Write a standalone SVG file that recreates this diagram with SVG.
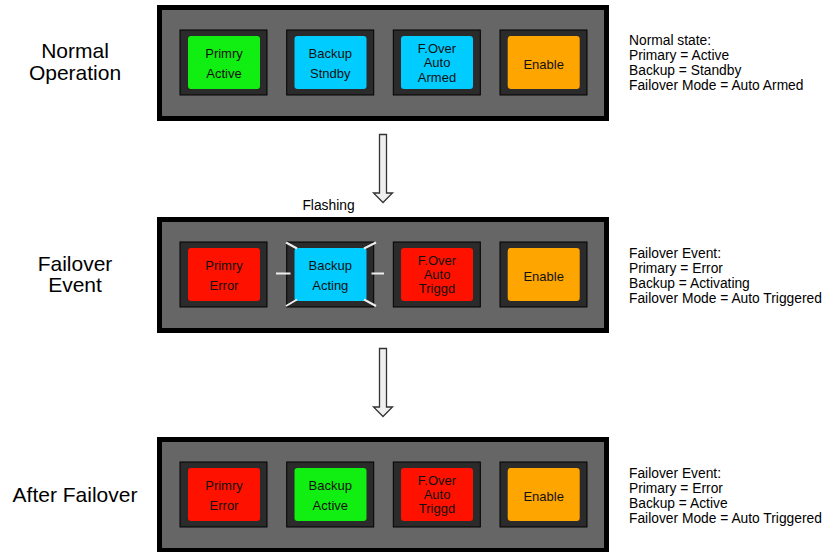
<svg xmlns="http://www.w3.org/2000/svg" width="830" height="552" viewBox="0 0 830 552">
<style>
.panel{fill:#666666;stroke:#000;stroke-width:5}
.bezel{fill:#2b2b2b;stroke:#000;stroke-width:1}
.green{fill:#11ee11}
.cyan{fill:#00ccff}
.red{fill:#ff1100}
.orange{fill:#ffa500}
.bt{font-family:"Liberation Sans",Arial,sans-serif;font-size:13px;fill:#111;text-anchor:middle}
.lbl{font-family:"Liberation Sans",Arial,sans-serif;font-size:21px;fill:#000;text-anchor:middle}
.note{font-family:"Liberation Sans",Arial,sans-serif;font-size:13.8px;fill:#000}
.flash{stroke:#eeeeee;stroke-width:2;fill:none}
.arrow{fill:#efefef;stroke:#333;stroke-width:1.3}
</style>
<defs>
<rect id="bz" class="bezel" x="0" y="0" width="87" height="65"/>
</defs>

<!-- Panel 1 -->
<g id="panel1">
<rect class="panel" x="159.5" y="7.5" width="447" height="111"/>
<g id="p1-primary"><use href="#bz" x="180" y="30"/><rect class="green" x="188" y="36" width="72" height="53" rx="3"/>
<text class="bt" x="224" y="57.5">Primry</text><text class="bt" x="224" y="77.5">Active</text></g>
<g id="p1-backup"><use href="#bz" x="286.7" y="30"/><rect class="cyan" x="294.5" y="36" width="72" height="53" rx="3"/>
<text class="bt" x="330.3" y="57.5">Backup</text><text class="bt" x="330.3" y="77.5">Stndby</text></g>
<g id="p1-failover"><use href="#bz" x="393.3" y="30"/><rect class="cyan" x="401" y="36" width="72" height="53" rx="3"/>
<text class="bt" x="437" y="52.5">F.Over</text><text class="bt" x="437" y="67">Auto</text><text class="bt" x="437" y="81.5">Armed</text></g>
<g id="p1-enable"><use href="#bz" x="500" y="30"/><rect class="orange" x="507.7" y="36" width="72" height="53" rx="3"/>
<text class="bt" x="543.7" y="68.5">Enable</text></g>
</g>
<g id="label1"><text class="lbl" x="75" y="58">Normal</text><text class="lbl" x="75" y="80">Operation</text></g>
<g id="note1"><text class="note" x="629" y="45">Normal state:</text><text class="note" x="629" y="60">Primary = Active</text><text class="note" x="629" y="75">Backup = Standby</text><text class="note" x="629" y="90">Failover Mode = Auto Armed</text></g>

<!-- Panel 2 -->
<g id="panel2">
<rect class="panel" x="159.5" y="219.5" width="447" height="111"/>
<g id="p2-primary"><use href="#bz" x="180" y="242"/><rect class="red" x="188" y="248" width="72" height="53" rx="3"/>
<text class="bt" x="224" y="270">Primry</text><text class="bt" x="224" y="289.5">Error</text></g>
<g id="p2-backup"><use href="#bz" x="286.7" y="242"/><rect class="cyan" x="294.5" y="248" width="72" height="53" rx="3"/>
<text class="bt" x="330.3" y="269.5">Backup</text><text class="bt" x="330.3" y="289.5">Acting</text>
<line class="flash" x1="276" y1="273.5" x2="290.5" y2="273.5"/>
<line class="flash" x1="371.5" y1="273.5" x2="384" y2="273.5"/>
<line class="flash" x1="286" y1="242.5" x2="297" y2="248.5"/>
<line class="flash" x1="364" y1="248.5" x2="376" y2="242.5"/>
<line class="flash" x1="297" y1="299.5" x2="286" y2="306"/>
<line class="flash" x1="364" y1="299.5" x2="376" y2="306"/>
</g>
<g id="p2-failover"><use href="#bz" x="393.3" y="242"/><rect class="red" x="401" y="248" width="72" height="53" rx="3"/>
<text class="bt" x="437" y="264.5">F.Over</text><text class="bt" x="437" y="279">Auto</text><text class="bt" x="437" y="292.5">Triggd</text></g>
<g id="p2-enable"><use href="#bz" x="500" y="242"/><rect class="orange" x="507.7" y="248" width="72" height="53" rx="3"/>
<text class="bt" x="543.7" y="280.5">Enable</text></g>
</g>
<text id="flashing" class="note" x="328.5" y="210" text-anchor="middle">Flashing</text>
<g id="label2"><text class="lbl" x="75" y="271">Failover</text><text class="lbl" x="75" y="292">Event</text></g>
<g id="note2"><text class="note" x="629" y="258">Failover Event:</text><text class="note" x="629" y="273">Primary = Error</text><text class="note" x="629" y="288">Backup = Activating</text><text class="note" x="629" y="303">Failover Mode = Auto Triggered</text></g>

<!-- Panel 3 -->
<g id="panel3">
<rect class="panel" x="159.5" y="439.5" width="447" height="111"/>
<g id="p3-primary"><use href="#bz" x="180" y="462"/><rect class="red" x="188" y="468" width="72" height="53" rx="3"/>
<text class="bt" x="224" y="490">Primry</text><text class="bt" x="224" y="509.5">Error</text></g>
<g id="p3-backup"><use href="#bz" x="286.7" y="462"/><rect class="green" x="294.5" y="468" width="72" height="53" rx="3"/>
<text class="bt" x="330.3" y="489.5">Backup</text><text class="bt" x="330.3" y="509.5">Active</text></g>
<g id="p3-failover"><use href="#bz" x="393.3" y="462"/><rect class="red" x="401" y="468" width="72" height="53" rx="3"/>
<text class="bt" x="437" y="484.5">F.Over</text><text class="bt" x="437" y="499">Auto</text><text class="bt" x="437" y="512.5">Triggd</text></g>
<g id="p3-enable"><use href="#bz" x="500" y="462"/><rect class="orange" x="507.7" y="468" width="72" height="53" rx="3"/>
<text class="bt" x="543.7" y="500.5">Enable</text></g>
</g>
<g id="label3"><text class="lbl" x="75" y="502">After Failover</text></g>
<g id="note3"><text class="note" x="629" y="478">Failover Event:</text><text class="note" x="629" y="493">Primary = Error</text><text class="note" x="629" y="508">Backup = Active</text><text class="note" x="629" y="523">Failover Mode = Auto Triggered</text></g>

<!-- Connectors -->
<g id="connectors">
<polygon class="arrow" points="379.5,134.5 386.5,134.5 386.5,193 392.5,193 383,202.5 373.5,193 379.5,193"/>
<polygon class="arrow" points="379.5,348.5 386.5,348.5 386.5,407 392.5,407 383,416.5 373.5,407 379.5,407"/>
</g>
</svg>
